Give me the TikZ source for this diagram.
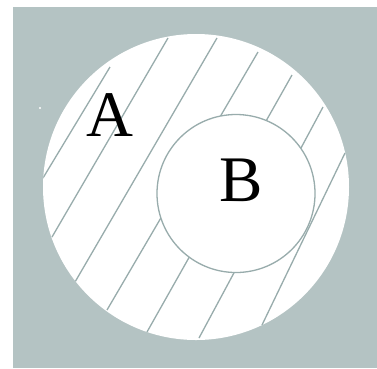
\documentclass[tikz,border=0pt]{standalone}
\usepackage{fontspec}
\setmainfont{Liberation Serif}
\definecolor{bggray}{HTML}{B4C3C3}
\definecolor{linegray}{HTML}{98ACAC}
\tikzset{
  hatchline/.style={draw=linegray, line width=1.3pt},
  setlabel/.style={font=\fontsize{65}{65}\selectfont, text=black, inner sep=0pt}
}
\begin{document}
\begin{tikzpicture}[x=1pt,y=-1pt]
\useasboundingbox (0,0) rectangle (377,368);
\fill[bggray] (13,7) rectangle (377,368);
\fill[white] (40,108) circle (1.2);
\fill[white] (196,187) circle (153);
\begin{scope}
  \clip (196,187) circle (153);
  \draw[hatchline] (110,67) -- (43,178);
  \draw[hatchline] (168,38) -- (52,237);
  \draw[hatchline] (217,38) -- (75,282);
  \draw[hatchline] (258,52) -- (107,310);
  \draw[hatchline] (292,75) -- (147,332);
  \draw[hatchline] (323,107) -- (199,338);
  \draw[hatchline] (345,153) -- (262,325);
\end{scope}
\node[circle, fill=white, draw=linegray, line width=1.3pt, minimum size=158pt, inner sep=0pt] (setB) at (236,193.5) {};
\node[setlabel] (labA) at (110,115) {A};
\node[setlabel] (labB) at (241,180) {B};
\end{tikzpicture}
\end{document}
